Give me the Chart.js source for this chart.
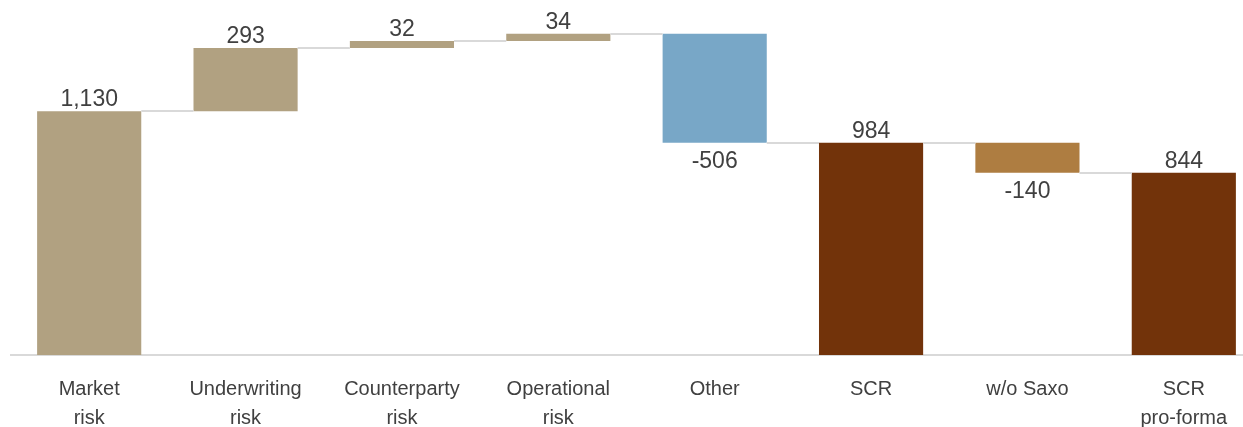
<!DOCTYPE html>
<html>
<head>
<meta charset="utf-8">
<script src="https://cdn.jsdelivr.net/npm/chart.js@4"></script>
<style>
  html, body { margin: 0; padding: 0; background: #fff; overflow: hidden; }
  #wrap { width: 1262px; height: 427px; }
</style>
</head>
<body>
<div id="wrap"><canvas id="scrBridge" width="1262" height="427"></canvas></div>
<script>
var categories = [["Market", "risk"], ["Underwriting", "risk"], ["Counterparty", "risk"], ["Operational", "risk"],
  "Other", "SCR", "w/o Saxo", ["SCR", "pro-forma"]];
var values = [1130, 293, 32, 34, -506, 984, -140, 844];
// 'total' bars start at zero, 'step' bars float on the running sum
var kinds = ["total", "step", "step", "step", "step", "total", "step", "total"];
var colors = ["#B1A181", "#B1A181", "#B1A181", "#B1A181", "#78A7C7", "#72330A", "#AE7D41", "#72330A"];

var ranges = [];
var running = 0;
for (var i = 0; i < values.length; i++) {
  if (kinds[i] === "total") {
    ranges.push([0, values[i]]);
    running = values[i];
  } else {
    ranges.push([running, running + values[i]]);
    running += values[i];
  }
}

// value labels above rising bars, below falling ones, plus grey connectors
var bridgeDecor = {
  id: 'bridgeDecor',
  afterDatasetsDraw: function (chart) {
    var c = chart.ctx;
    var meta = chart.getDatasetMeta(0);
    var y = chart.scales.y;
    c.save();
    c.strokeStyle = '#d9d9d9';
    c.lineWidth = 2;
    for (var i = 0; i < meta.data.length - 1; i++) {
      var a = meta.data[i], b = meta.data[i + 1];
      var yy = Math.round(y.getPixelForValue(ranges[i][1]));
      c.beginPath();
      c.moveTo(a.x + a.width / 2, yy);
      c.lineTo(b.x - b.width / 2, yy);
      c.stroke();
    }
    c.fillStyle = '#404040';
    c.font = '23px "Liberation Sans", Arial, sans-serif';
    c.textAlign = 'center';
    c.textBaseline = 'alphabetic';
    for (var j = 0; j < meta.data.length; j++) {
      var bar = meta.data[j];
      var txt = values[j].toLocaleString('en-US');
      if (values[j] >= 0) {
        var top = y.getPixelForValue(Math.max(ranges[j][0], ranges[j][1]));
        c.fillText(txt, bar.x, top - 5);
      } else {
        var bottom = y.getPixelForValue(Math.min(ranges[j][0], ranges[j][1]));
        c.fillText(txt, bar.x, bottom + 25);
      }
    }
    c.restore();
  }
};

new Chart(document.getElementById('scrBridge').getContext('2d'), {
  type: 'bar',
  data: {
    labels: categories,
    datasets: [{
      data: ranges,
      backgroundColor: colors,
      borderWidth: 0,
      categoryPercentage: 1,
      barPercentage: 0.666
    }]
  },
  options: {
    responsive: false,
    animation: false,
    layout: { padding: { left: 11, right: 0, top: 0, bottom: 0 } },
    plugins: { legend: { display: false }, tooltip: { enabled: false } },
    scales: {
      x: {
        grid: { display: false },
        border: { display: true, color: '#d9d9d9', width: 2 },
        ticks: {
          color: '#404040',
          padding: 12,
          maxRotation: 0,
          autoSkip: false,
          font: { family: '"Liberation Sans", Arial, sans-serif', size: 20, lineHeight: 1.45 }
        },
        afterFit: function (scale) { scale.height = 72; }
      },
      y: {
        display: false,
        min: 0,
        max: 1645
      }
    }
  },
  plugins: [bridgeDecor]
});
</script>
</body>
</html>
